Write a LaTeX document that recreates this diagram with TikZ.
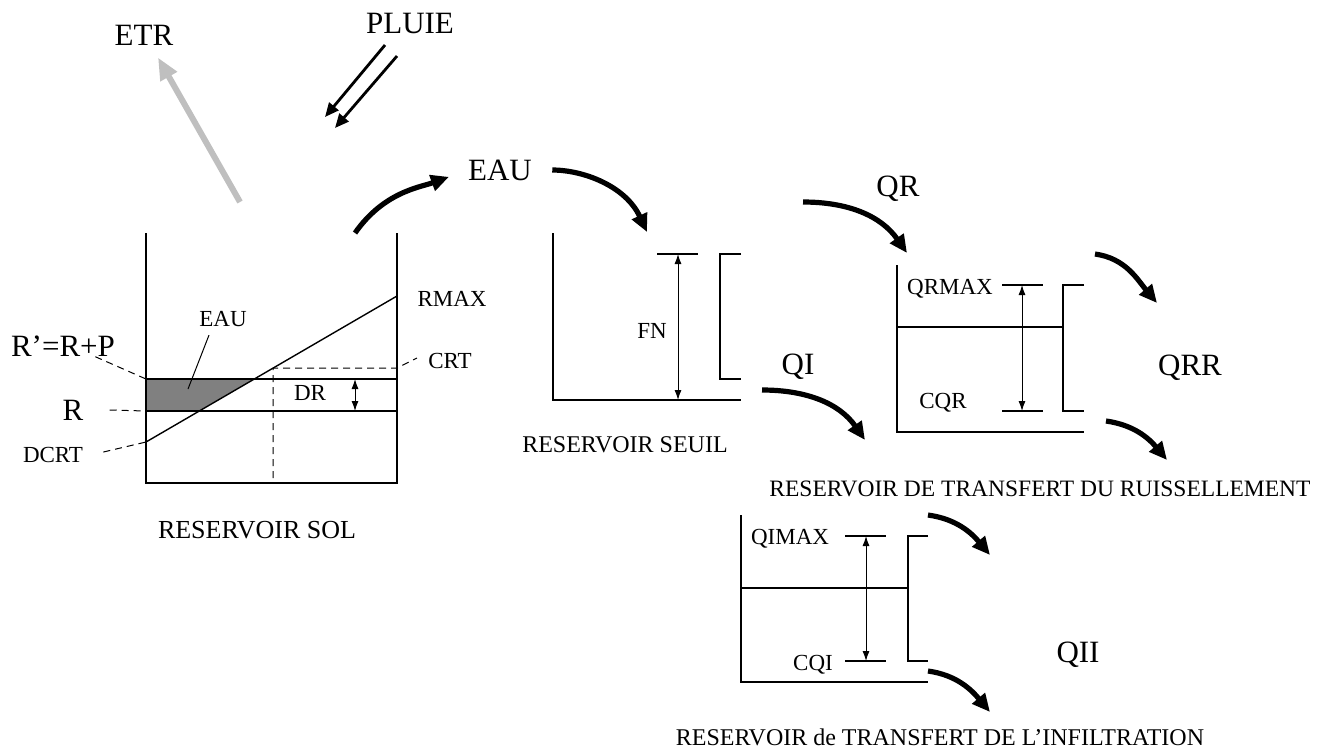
\documentclass[tikz,border=0pt]{standalone}
\usepackage{fontspec}
\setmainfont{Liberation Serif}
\usetikzlibrary{arrows.meta}
\begin{document}
\begin{tikzpicture}[
        x=0.5pt, y=-0.5pt,
        every node/.style={inner sep=0pt},
        big/.style={font=\fontsize{15.5}{18}\selectfont},
        small/.style={font=\fontsize{11.5}{14}\selectfont},
        caption/.style={font=\fontsize{12}{14}\selectfont},
        wall/.style={draw, line width=0.7pt},
        guide/.style={draw, dashed, line width=0.5pt, dash pattern=on 3.5pt off 2.5pt},
        gauge/.style={draw, line width=0.5pt, {Latex[length=5pt,width=3.5pt]}-{Latex[length=5pt,width=3.5pt]}},
        flow/.style={draw, line width=2.6pt, -{Triangle[length=9pt,width=8pt]}},
        rain/.style={draw, line width=1.4pt, -{Triangle[length=7pt,width=6pt]}},
        vapour/.style={draw, black!25, line width=3pt, -{Triangle[length=11pt,width=9pt]}},
    ]
    \useasboundingbox (0,0) rectangle (1325,751);
    \node[big] (etr) at (144,35) {ETR};
    \node[big] (pluie) at (410,23) {PLUIE};
    \node[big] (eau) at (500,170) {EAU};
    \node[big] (qr) at (898,189) {QR};
    \node[big] (qi) at (798,367) {QI};
    \node[big] (qrr) at (1190,368) {QRR};
    \node[big] (qii) at (1078,655) {QII};
    \node[big] (rprime) at (63,346) {R’=R+P};
    \node[big] (r) at (73,410) {R};
    \node[small] (dcrt) at (53,455) {DCRT};
    \node[small] (rmax) at (452,299) {RMAX};
    \node[small] (crt) at (450,361) {CRT};
    \node[small] (eausol) at (223,319) {EAU};
    \node[small] (dr) at (310,393) {DR};
    \node[small] (fn) at (652,331) {FN};
    \node[small] (qrmax) at (950,289) {QRMAX};
    \node[small] (cqr) at (943,403) {CQR};
    \node[small] (qimax) at (790,539) {QIMAX};
    \node[small] (cqi) at (813,665) {CQI};
    \node[caption, font=\fontsize{13}{15}\selectfont] (solcap) at (257,530) {RESERVOIR SOL};
    \node[caption] (seuilcap) at (625,445) {RESERVOIR SEUIL};
    \node[caption, font=\fontsize{11.75}{14}\selectfont] (ruiscap) at (1040,489) {RESERVOIR DE TRANSFERT DU RUISSELLEMENT};
    \node[caption] (infcap) at (940,737) {RESERVOIR de TRANSFERT DE L’INFILTRATION};

    \coordinate (etrfoot) at (240,202);
    \coordinate (soilout) at (355,233);
    \coordinate (rain1) at (385,45);
    \coordinate (rain1end) at (325,117);
    \coordinate (rain2) at (397,56);
    \coordinate (rain2end) at (335,128);
    \coordinate (eaupoint) at (188,389);
    \coordinate (seuilin) at (647,232);
    \coordinate (qrout) at (803,202);
    \coordinate (qrin) at (907,253);
    \coordinate (qiout) at (762,390);
    \coordinate (qiin) at (865,440);
    \coordinate (qrrtop) at (1095,254);
    \coordinate (qrrtopend) at (1157,303);
    \coordinate (qrrbot) at (1106,421);
    \coordinate (qrrbotend) at (1167,460);
    \coordinate (qiitop) at (928,515);
    \coordinate (qiitopend) at (990,555);
    \coordinate (qiibot) at (928,671);
    \coordinate (qiibotend) at (990,712);

    \fill[gray] (146,379) -- (254,379) -- (199,411) -- (146,411) -- cycle;
    \draw[wall] (146,233) |- (397,483) -- (397,233);
    \draw[wall] (146,379) -- (397,379);
    \draw[wall] (146,411) -- (397,411);
    \draw[wall] (146,442) -- (397,296);
    \draw[guide] (273,478) -- (273,368) -- (397,368) -- ([xshift=-5.5pt,yshift=1.5pt]crt.west);
    \draw[guide] ([xshift=-10pt]rprime.south east) -- (146,379);
    \draw[guide] ([xshift=13pt]r.east) -- (146,411);
    \draw[guide] ([xshift=10pt,yshift=1.5pt]dcrt.east) -- (146,442);
    \draw[line width=0.5pt] ([xshift=-7pt,yshift=-4pt]eausol.south) -- (eaupoint);
    \draw[gauge] (355,379) -- (355,411);

    \draw[wall] (553,233) |- (741,400);
    \draw[wall] (657,254) -- (698,254);
    \draw[wall] (741,254) -| (720,379) -- (741,379);
    \draw[gauge] (678,254) -- (678,400);

    \draw[wall] (897,265) |- (1084,432);
    \draw[wall] (897,327) -- (1063,327);
    \draw[wall] (1084,285) -| (1063,411) -- (1084,411);
    \draw[wall] (1002,285) -- (1043,285);
    \draw[wall] (1002,411) -- (1043,411);
    \draw[gauge] (1022,285) -- (1022,411);

    \draw[wall] (741,515) |- (928,682);
    \draw[wall] (741,588) -- (908,588);
    \draw[wall] (928,536) -| (908,661) -- (928,661);
    \draw[wall] (845,536) -- (886,536);
    \draw[wall] (845,661) -- (886,661);
    \draw[gauge] (866,536) -- (866,661);

    \draw[vapour] (etrfoot) -- ([xshift=7pt,yshift=-6pt]etr.south);
    \draw[rain] (rain1) -- (rain1end);
    \draw[rain] (rain2) -- (rain2end);
    \draw[flow, shorten >=10pt] (soilout) to[out=55, in=200] (eau.west);
    \draw[flow, shorten <=10pt] (eau.east) to[out=0, in=115] (seuilin);
    \draw[flow] (qrout) to[out=0, in=125] (qrin);
    \draw[flow] (qiout) to[out=0, in=125] (qiin);
    \draw[flow] (qrrtop) to[out=-8, in=130] (qrrtopend);
    \draw[flow] (qrrbot) to[out=-8, in=130] (qrrbotend);
    \draw[flow] (qiitop) to[out=-8, in=130] (qiitopend);
    \draw[flow] (qiibot) to[out=-8, in=130] (qiibotend);
\end{tikzpicture}
\end{document}
